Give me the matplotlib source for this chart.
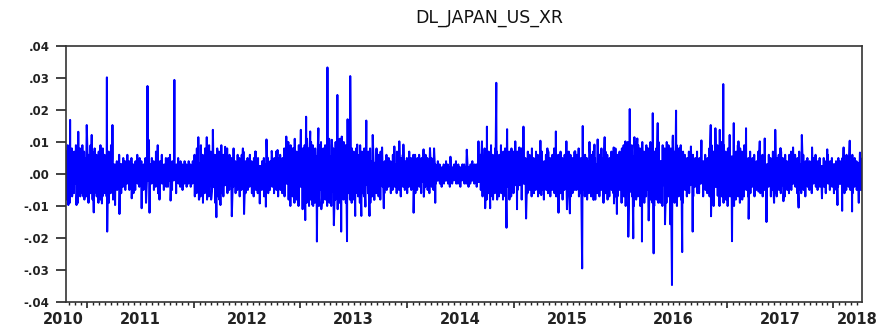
import numpy as np
import pandas as pd
import matplotlib
matplotlib.use("Agg")
import matplotlib.pyplot as plt
from matplotlib.ticker import FixedLocator

plt.rcParams['font.family'] = ['DejaVu Sans']

# sample: business days
start_date = '2010-10-21'
end_date = '2018-04-09'
first_monday = '2010-10-18'

# typical daily swing per month (x 1e-3), Oct 2010 .. Apr 2018
core_up = [4, 4, 5,
           5, 5, 5, 3, 2, 2, 2.5, 3, 2.5, 2, 2, 2,
           3.5, 4, 5, 4, 3.5, 3.5, 3, 2.5, 3, 3, 4, 5,
           5.5, 5.5, 5, 5.5, 6, 6, 4, 4, 3.5, 2.5, 3, 3,
           3, 3, 2, 2, 2, 2, 2, 2, 3, 4, 4, 5,
           3.5, 3, 3, 3, 3, 3, 2.5, 3.5, 4, 3, 3, 3,
           4, 5.5, 4, 5, 4, 5, 5, 3.5, 3.5, 3.5, 5.5, 5.5,
           5.5, 4, 3.5, 3.5, 3, 3, 3.5, 3, 3, 2.5, 2.5, 2.5,
           3, 3.5, 3.5, 3.5]
core_dn = [3, 3, 3.5,
           4, 3.5, 3.5, 2, 2, 2, 2, 2, 2, 2, 1.5, 1.5,
           2.5, 3.5, 4, 3.5, 3.5, 3, 3, 2.5, 3, 3, 3, 3.5,
           4, 5, 5, 5.5, 5.5, 6, 4, 3.5, 3.5, 2.5, 2.5, 2.5,
           3, 2.5, 2, 2, 2, 1.5, 1.5, 2, 2.5, 3.5, 3.5, 4,
           3.5, 3, 3, 2.5, 3, 3, 2.5, 3.5, 3.5, 3, 3, 3,
           4, 5.5, 4, 5, 3.5, 5, 5, 3.5, 3, 3, 4, 5.5,
           5.5, 4, 3.5, 3, 3, 3, 3.5, 3, 3, 2, 2, 2.5,
           3, 3.5, 3.5, 3.5]

# weekly high / low of the daily change (x 1e-3), weeks from 18 Oct 2010
week_hi = [7, 9, 6, 8, 7, 9, 6, 8, 9, 7,
           8, 6, 9, 7, 8, 6, 7, 9, 8, 6,
           8, 7, 9, 6, 5, 4, 6, 3, 5, 4,
           6, 4, 5, 3, 4, 6, 5, 4, 3, 5,
           4, 6, 5, 4, 7, 5, 4, 6, 3, 5,
           5, 6, 4, 5, 3, 5, 4, 3, 4, 3,
           4, 3, 4, 6, 8, 7, 9, 6, 8, 7,
           9, 7, 8, 6, 8, 7, 9, 6, 7, 8,
           6, 5, 7, 4, 6, 5, 6, 7, 4, 5,
           6, 4, 5, 7, 5, 6, 4, 5, 6, 5,
           4, 6, 5, 7, 5, 6, 5, 8, 7, 10,
           9, 8, 11, 7, 9, 10, 8, 9, 11, 8,
           10, 9, 8, 11, 9, 10, 8, 9, 10, 11,
           9, 8, 10, 9, 11, 8, 10, 9, 8, 9,
           8, 7, 8, 6, 9, 7, 8, 6, 7, 8,
           6, 7, 8, 6, 7, 5, 4, 6, 5, 4,
           6, 5, 7, 4, 5, 6, 4, 5, 7, 5,
           6, 4, 5, 6, 5, 4, 6, 5, 4, 5,
           4, 3, 4, 3, 2, 3, 4, 3, 3, 2,
           3, 4, 3, 2, 3, 3, 4, 2, 3, 4,
           3, 3, 4, 6, 5, 8, 6, 7, 9, 6,
           8, 7, 6, 9, 7, 8, 6, 7, 8, 7,
           6, 7, 5, 8, 6, 5, 7, 6, 8, 5,
           7, 6, 5, 7, 4, 6, 7, 5, 6, 8,
           5, 6, 7, 5, 6, 4, 7, 6, 5, 7,
           6, 8, 5, 7, 6, 5, 8, 6, 7, 5,
           7, 6, 8, 5, 7, 6, 5, 7, 6, 8,
           6, 7, 8, 9, 7, 10, 8, 9, 7, 10,
           9, 8, 10, 7, 9, 8, 10, 9, 7, 8,
           10, 8, 9, 7, 10, 9, 8, 10, 7, 9,
           8, 9, 7, 6, 5, 7, 4, 6, 5, 7,
           5, 6, 4, 6, 5, 8, 9, 7, 10, 9,
           8, 10, 9, 7, 8, 10, 9, 8, 7, 9,
           8, 7, 9, 6, 5, 7, 5, 6, 4, 7,
           5, 6, 7, 4, 6, 5, 7, 6, 5, 6,
           7, 5, 6, 4, 6, 7, 5, 6, 5, 7,
           5, 6, 4, 5, 4, 3, 5, 6, 4, 5,
           3, 5, 4, 6, 4, 5, 3, 4, 5, 4,
           5, 4, 6, 5, 4, 6, 5, 4, 6, 5,
           5]
week_lo = [8, 6, 9, 7, 6, 8, 9, 7, 6, 8,
           7, 9, 6, 8, 6, 7, 9, 8, 7, 6,
           7, 9, 6, 8, 4, 5, 3, 6, 4, 5,
           3, 5, 4, 6, 5, 3, 4, 6, 5, 4,
           6, 4, 3, 5, 4, 6, 5, 3, 5, 4,
           4, 3, 5, 4, 6, 3, 4, 5, 3, 4,
           3, 4, 3, 7, 6, 8, 7, 9, 6, 8,
           7, 8, 6, 9, 7, 8, 6, 7, 8, 6,
           5, 7, 4, 6, 5, 7, 5, 4, 6, 5,
           4, 6, 7, 5, 6, 4, 5, 7, 5, 6,
           5, 4, 6, 5, 7, 5, 6, 7, 9, 8,
           10, 7, 9, 8, 10, 9, 11, 8, 9, 10,
           8, 10, 9, 8, 10, 11, 9, 8, 10, 9,
           10, 9, 8, 11, 9, 10, 8, 9, 10, 8,
           9, 8, 6, 7, 9, 6, 7, 8, 6, 9,
           7, 8, 6, 7, 8, 4, 6, 5, 4, 6,
           5, 4, 6, 5, 7, 4, 5, 6, 4, 5,
           4, 6, 5, 4, 6, 5, 4, 5, 6, 4,
           5, 3, 2, 3, 4, 3, 2, 3, 4, 3,
           2, 3, 3, 4, 2, 3, 3, 4, 3, 2,
           3, 4, 3, 5, 7, 6, 8, 6, 7, 8,
           6, 8, 7, 6, 8, 7, 6, 8, 7, 6,
           7, 5, 6, 8, 5, 7, 6, 5, 7, 6,
           5, 7, 6, 5, 8, 5, 6, 7, 5, 6,
           7, 5, 6, 8, 5, 6, 5, 7, 6, 5,
           5, 7, 6, 5, 7, 8, 6, 7, 5, 8,
           6, 7, 5, 7, 6, 8, 7, 5, 6, 7,
           7, 5, 9, 7, 10, 8, 9, 7, 10, 8,
           7, 10, 8, 9, 7, 10, 8, 9, 10, 8,
           9, 7, 10, 8, 9, 7, 10, 8, 9, 10,
           7, 8, 9, 5, 7, 6, 5, 7, 4, 6,
           6, 5, 7, 5, 6, 7, 8, 10, 8, 9,
           10, 7, 9, 8, 10, 7, 9, 10, 8, 7,
           9, 8, 7, 5, 7, 6, 4, 7, 5, 6,
           6, 7, 5, 6, 4, 7, 5, 6, 7, 5,
           6, 4, 7, 5, 6, 5, 7, 4, 6, 5,
           6, 5, 7, 4, 5, 6, 3, 4, 5, 4,
           5, 4, 6, 3, 5, 4, 6, 5, 4, 3,
           4, 6, 5, 4, 5, 6, 4, 5, 6, 5,
           5]

# large single-day moves (decimal year, log change)
spike_time = [2010.825, 2010.840, 2010.903, 2010.918, 2010.965, 2010.997,
              2011.044, 2011.059, 2011.138, 2011.185, 2011.193, 2011.237,
              2011.263, 2011.303, 2011.420, 2011.513, 2011.554, 2011.566,
              2011.582, 2011.587, 2011.664, 2011.679, 2011.786, 2011.819,
              2012.044, 2012.054, 2012.123, 2012.170, 2012.180, 2012.211,
              2012.248, 2012.295, 2012.358, 2012.373, 2012.461, 2012.476,
              2012.577, 2012.620, 2012.677, 2012.683, 2012.733, 2012.786,
              2012.868, 2012.936, 2013.005, 2013.046, 2013.052, 2013.093,
              2013.114, 2013.156, 2013.171, 2013.203, 2013.255, 2013.296,
              2013.318, 2013.349, 2013.384, 2013.390, 2013.437, 2013.443,
              2013.468, 2013.515, 2013.531, 2013.569, 2013.609, 2013.618,
              2013.649, 2013.681, 2013.693, 2013.766, 2013.781, 2013.881,
              2013.928, 2013.968, 2014.062, 2014.078, 2014.156, 2014.163,
              2014.219, 2014.256, 2014.266, 2014.407, 2014.563, 2014.672,
              2014.704, 2014.735, 2014.751, 2014.782, 2014.835, 2014.932,
              2014.939, 2015.017, 2015.032, 2015.054, 2015.094, 2015.120,
              2015.251, 2015.261, 2015.314, 2015.398, 2015.423, 2015.495,
              2015.504, 2015.526, 2015.580, 2015.642, 2015.648, 2015.711,
              2015.751, 2015.758, 2015.793, 2015.845, 2015.854, 2015.939,
              2015.946, 2015.971, 2016.049, 2016.080, 2016.089, 2016.121,
              2016.133, 2016.159, 2016.206, 2016.268, 2016.309, 2016.314,
              2016.352, 2016.377, 2016.419, 2016.424, 2016.471, 2016.487,
              2016.495, 2016.525, 2016.565, 2016.581, 2016.665, 2016.680,
              2016.762, 2016.846, 2016.852, 2016.893, 2016.915, 2016.934,
              2016.966, 2017.027, 2017.050, 2017.065, 2017.112, 2017.181,
              2017.206, 2017.299, 2017.309, 2017.356, 2017.372, 2017.440,
              2017.456, 2017.503, 2017.534, 2017.622, 2017.675, 2017.707,
              2017.801, 2017.894, 2017.941, 2018.035, 2018.082, 2018.097,
              2018.151, 2018.176, 2018.238, 2018.247]
spike_val = [-0.0097, 0.0169, -0.0097, 0.0132, -0.0071, 0.0153,
             0.0122, -0.0120, -0.0092, 0.0302, -0.0180, 0.0153,
             -0.0097, -0.0125, -0.0076, -0.0107, -0.0090, 0.0275,
             0.0106, -0.0121, 0.0090, -0.0080, -0.0083, 0.0294,
             0.0115, -0.0080, 0.0115, -0.0071, 0.0138, -0.0135,
             -0.0097, 0.0085, -0.0132, 0.0080, 0.0080, -0.0125,
             0.0070, -0.0092, -0.0102, 0.0108, 0.0072, 0.0075,
             0.0117, 0.0080, 0.0138, -0.0144, 0.0179, 0.0133,
             -0.0097, -0.0211, 0.0143, -0.0097, 0.0333, 0.0107,
             -0.0160, 0.0247, -0.0180, 0.0117, -0.0210, 0.0171,
             0.0306, -0.0131, 0.0092, -0.0131, -0.0102, 0.0167,
             -0.0131, 0.0122, -0.0081, 0.0083, -0.0107, 0.0086,
             0.0102, 0.0092, -0.0121, 0.0060, 0.0077, -0.0071,
             0.0081, 0.0080, -0.0090, 0.0054, 0.0076, 0.0102,
             0.0102, -0.0107, 0.0148, -0.0107, 0.0285, -0.0168,
             0.0140, 0.0102, -0.0110, 0.0083, 0.0148, -0.0139,
             0.0104, -0.0066, 0.0080, 0.0133, -0.0121, 0.0102,
             -0.0110, -0.0123, 0.0071, -0.0295, 0.0150, 0.0100,
             -0.0081, 0.0092, 0.0108, -0.0090, 0.0115, 0.0083,
             -0.0092, -0.0125, 0.0102, -0.0196, 0.0203, -0.0201,
             0.0115, 0.0111, -0.0211, -0.0145, 0.0190, -0.0248,
             0.0159, -0.0090, 0.0080, -0.0157, -0.0157, -0.0347,
             0.0120, 0.0198, 0.0073, -0.0244, 0.0086, -0.0180,
             0.0105, 0.0153, -0.0132, 0.0143, -0.0068, 0.0138,
             0.0281, 0.0122, -0.0210, 0.0159, 0.0102, 0.0143,
             -0.0140, -0.0055, 0.0102, 0.0111, -0.0150, -0.0090,
             0.0138, 0.0081, -0.0085, 0.0083, -0.0105, 0.0122,
             0.0083, -0.0076, 0.0077, -0.0097, -0.0115, 0.0083,
             0.0104, -0.0117, -0.0090, 0.0067]

years = list(range(2010, 2019))

# build the daily series
dates = pd.bdate_range(start_date, end_date)
days_in_year = np.where(dates.is_leap_year, 366, 365)
t = np.asarray(dates.year + (dates.dayofyear - 1) / days_in_year, dtype=float)
month_idx = np.asarray((dates.year - 2010) * 12 + dates.month - 10)
up = np.array(core_up)[month_idx] / 1000
dn = np.array(core_dn)[month_idx] / 1000
sign = np.where(np.arange(len(dates)) % 2 == 0, 1, -1)
dl = np.where(sign > 0, up, -dn)

week_idx = np.asarray((dates - pd.Timestamp(first_monday)).days // 7)
for k, (hi, lo) in enumerate(zip(week_hi, week_lo)):
    idx = np.where(week_idx == k)[0]
    pos, neg = idx[sign[idx] > 0], idx[sign[idx] < 0]
    if len(pos):
        dl[pos[len(pos) // 2]] = hi / 1000
    if len(neg):
        dl[neg[len(neg) // 2]] = -lo / 1000

for ts, v in zip(spike_time, spike_val):
    dl[np.abs(t - ts).argmin()] = v

fig = plt.figure(figsize=(8.86, 3.29), dpi=100)
ax = fig.add_axes([66 / 886, 27 / 329, 796 / 886, 256 / 329])
ax.plot(t, dl, color='#0000ff', lw=1.45)

x0, x1 = t[0], t[-1]
ax.set_xlim(x0, x1)
ax.set_ylim(-0.04, 0.04)

# x axis: year boundaries as major ticks, labels in between
ax.set_xticks(years[1:])
ax.xaxis.set_minor_locator(FixedLocator(np.arange(2010, 2019, 1 / 18)))
ax.set_xticklabels([])
ax.tick_params(axis='x', which='major', length=4, width=1.2, color='#222222')
ax.tick_params(axis='x', which='minor', length=2.5, width=1.0, color='#222222')
for y in years:
    xpos = min(max(y + 0.5, x0 - 0.025), x1 - 0.045)
    ax.text(xpos, -0.04, str(y), transform=ax.get_xaxis_transform(),
            ha='center', va='top', fontsize=10.5, fontweight='bold',
            color='#222222')

yt = np.round(np.arange(-0.04, 0.041, 0.01), 2)
ax.set_yticks(yt)
ax.set_yticklabels([('%.2f' % v).replace('0.', '.') for v in yt],
                   fontsize=8.5, fontweight='bold', color='#222222')
ax.tick_params(axis='y', length=7, width=1.2, pad=5, color='#222222')

for s in ax.spines.values():
    s.set_linewidth(1.2)
    s.set_color('#333333')

fig.text(0.552, 0.945, 'DL_JAPAN_US_XR', ha='center', va='center',
         fontsize=12.5, color='#111111')

fig.savefig('out.png', dpi=100)
